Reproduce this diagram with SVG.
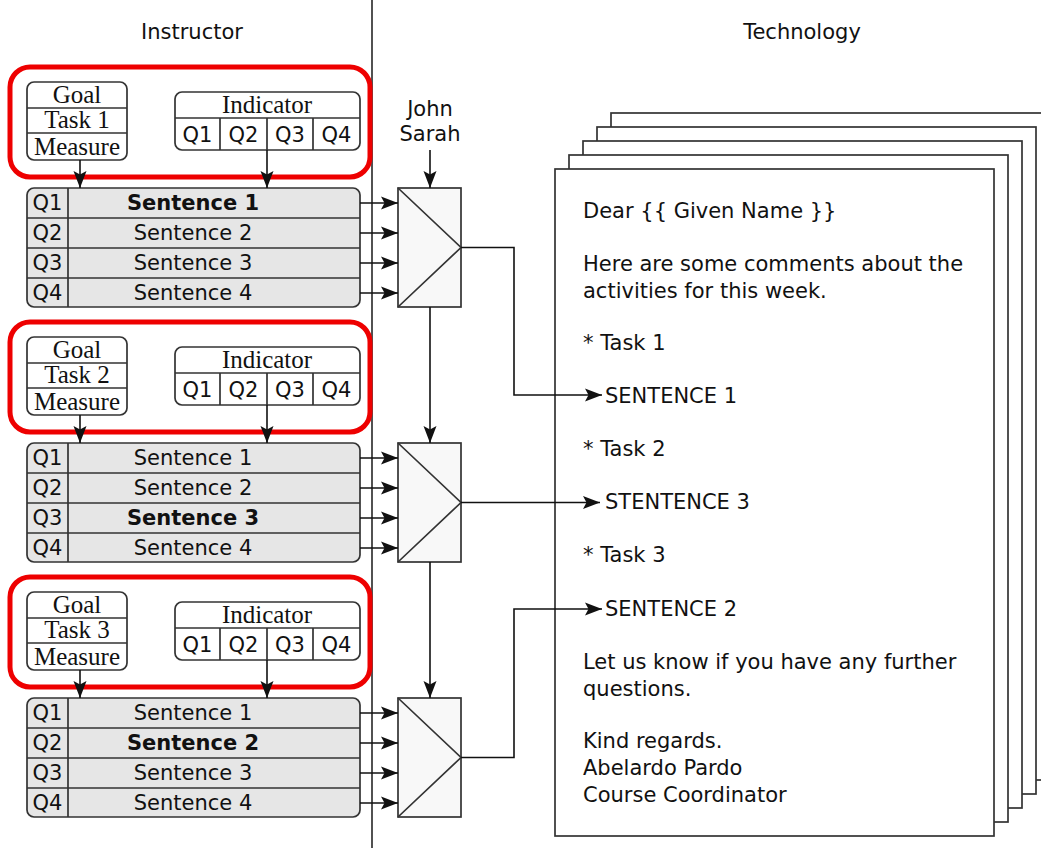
<svg xmlns="http://www.w3.org/2000/svg" width="1041" height="848" viewBox="0 0 1041 848">
<style>
.s{font-family:"DejaVu Sans","Verdana",sans-serif;font-size:21px;fill:#111}
.b{font-weight:bold}
.m{text-anchor:middle}
.f{font-family:"Liberation Serif","Times New Roman",serif;font-size:25px;fill:#111;text-anchor:middle}
.ln{fill:none;stroke:#333;stroke-width:1.7}
.red{fill:none;stroke:#ee0000;stroke-width:5}
.box{fill:#fff;stroke:#333;stroke-width:1.7}
.tbl{fill:#e6e6e6;stroke:#333;stroke-width:1.7}
.mux{fill:#f8f8f8;stroke:#333;stroke-width:1.7}
.pg{fill:#fff;stroke:#333;stroke-width:1.7}
.ar{fill:none;stroke:#111;stroke-width:1.6;marker-end:url(#ah)}
</style>
<defs>
<marker id="ah" markerUnits="userSpaceOnUse" markerWidth="18" markerHeight="14" refX="17" refY="7" orient="auto">
<path d="M0,0.5 L17,7 L0,13.5 L3.5,7 z" fill="#111"/>
</marker>
</defs>
<rect width="1041" height="848" fill="#fff"/>
<line x1="372" y1="0" x2="372" y2="848" class="ln"/>
<text x="192" y="39" class="s m">Instructor</text>
<text x="802" y="39" class="s m">Technology</text>

<g id="pages">
<rect x="611" y="113" width="439" height="667" class="pg"/>
<rect x="597" y="127" width="439" height="667" class="pg"/>
<rect x="583" y="141" width="439" height="667" class="pg"/>
<rect x="569" y="155" width="439" height="667" class="pg"/>
<rect x="555" y="169" width="439" height="667" class="pg"/>
<text class="s" x="583" y="218">Dear {{ Given Name }}</text>
<text class="s" x="583" y="271">Here are some comments about the</text>
<text class="s" x="583" y="298">activities for this week.</text>
<text class="s" x="583" y="350">* Task 1</text>
<text class="s" x="605" y="403">SENTENCE 1</text>
<text class="s" x="583" y="456">* Task 2</text>
<text class="s" x="605" y="509">STENTENCE 3</text>
<text class="s" x="583" y="562">* Task 3</text>
<text class="s" x="605" y="616">SENTENCE 2</text>
<text class="s" x="583" y="669">Let us know if you have any further</text>
<text class="s" x="583" y="696">questions.</text>
<text class="s" x="583" y="748">Kind regards.</text>
<text class="s" x="583" y="775">Abelardo Pardo</text>
<text class="s" x="583" y="802">Course Coordinator</text>
</g>

<g id="block1">
<rect x="10" y="67" width="360" height="110" rx="20" class="red"/>
<rect x="27" y="82" width="100" height="78" rx="7" class="box"/>
<path d="M27,108 H127 M27,133 H127" class="ln"/>
<text class="f" x="77" y="103">Goal</text>
<text class="f" x="77" y="128">Task 1</text>
<text class="f" x="77" y="155">Measure</text>
<rect x="175" y="92" width="185" height="58" rx="7" class="box"/>
<path d="M175,118 H360 M220,118 V150 M267,118 V150 M313,118 V150" class="ln"/>
<text class="f" x="267" y="113">Indicator</text>
<text class="s m" x="197.5" y="142">Q1</text>
<text class="s m" x="243.5" y="142">Q2</text>
<text class="s m" x="290" y="142">Q3</text>
<text class="s m" x="336.5" y="142">Q4</text>
<rect x="27" y="188" width="333" height="119" rx="7" class="tbl"/>
<path d="M27,218 H360 M27,248 H360 M27,278 H360 M68,188 V307" class="ln"/>
<text class="s m" x="47.5" y="210">Q1</text>
<text class="s m" x="47.5" y="240">Q2</text>
<text class="s m" x="47.5" y="270">Q3</text>
<text class="s m" x="47.5" y="300">Q4</text>
<text class="s m b" x="193" y="210">Sentence 1</text>
<text class="s m" x="193" y="240">Sentence 2</text>
<text class="s m" x="193" y="270">Sentence 3</text>
<text class="s m" x="193" y="300">Sentence 4</text>
</g>

<g id="block2">
<rect x="10" y="322" width="360" height="110" rx="20" class="red"/>
<rect x="27" y="337" width="100" height="78" rx="7" class="box"/>
<path d="M27,363 H127 M27,388 H127" class="ln"/>
<text class="f" x="77" y="358">Goal</text>
<text class="f" x="77" y="383">Task 2</text>
<text class="f" x="77" y="410">Measure</text>
<rect x="175" y="347" width="185" height="58" rx="7" class="box"/>
<path d="M175,373 H360 M220,373 V405 M267,373 V405 M313,373 V405" class="ln"/>
<text class="f" x="267" y="368">Indicator</text>
<text class="s m" x="197.5" y="397">Q1</text>
<text class="s m" x="243.5" y="397">Q2</text>
<text class="s m" x="290" y="397">Q3</text>
<text class="s m" x="336.5" y="397">Q4</text>
<rect x="27" y="443" width="333" height="119" rx="7" class="tbl"/>
<path d="M27,473 H360 M27,503 H360 M27,533 H360 M68,443 V562" class="ln"/>
<text class="s m" x="47.5" y="465">Q1</text>
<text class="s m" x="47.5" y="495">Q2</text>
<text class="s m" x="47.5" y="525">Q3</text>
<text class="s m" x="47.5" y="555">Q4</text>
<text class="s m" x="193" y="465">Sentence 1</text>
<text class="s m" x="193" y="495">Sentence 2</text>
<text class="s m b" x="193" y="525">Sentence 3</text>
<text class="s m" x="193" y="555">Sentence 4</text>
</g>

<g id="block3">
<rect x="10" y="577" width="360" height="110" rx="20" class="red"/>
<rect x="27" y="592" width="100" height="78" rx="7" class="box"/>
<path d="M27,618 H127 M27,643 H127" class="ln"/>
<text class="f" x="77" y="613">Goal</text>
<text class="f" x="77" y="638">Task 3</text>
<text class="f" x="77" y="665">Measure</text>
<rect x="175" y="602" width="185" height="58" rx="7" class="box"/>
<path d="M175,628 H360 M220,628 V660 M267,628 V660 M313,628 V660" class="ln"/>
<text class="f" x="267" y="623">Indicator</text>
<text class="s m" x="197.5" y="652">Q1</text>
<text class="s m" x="243.5" y="652">Q2</text>
<text class="s m" x="290" y="652">Q3</text>
<text class="s m" x="336.5" y="652">Q4</text>
<rect x="27" y="698" width="333" height="119" rx="7" class="tbl"/>
<path d="M27,728 H360 M27,758 H360 M27,788 H360 M68,698 V817" class="ln"/>
<text class="s m" x="47.5" y="720">Q1</text>
<text class="s m" x="47.5" y="750">Q2</text>
<text class="s m" x="47.5" y="780">Q3</text>
<text class="s m" x="47.5" y="810">Q4</text>
<text class="s m" x="193" y="720">Sentence 1</text>
<text class="s m b" x="193" y="750">Sentence 2</text>
<text class="s m" x="193" y="780">Sentence 3</text>
<text class="s m" x="193" y="810">Sentence 4</text>
</g>

<g id="students">
<text class="s m" x="430" y="116">John</text>
<text class="s m" x="430" y="141">Sarah</text>
</g>

<g id="mux1">
<rect x="398" y="188" width="63" height="119" class="mux"/>
<path d="M398,188 L461,247.5 L398,307" class="ln"/>
</g>
<g id="mux2">
<rect x="398" y="443" width="63" height="119" class="mux"/>
<path d="M398,443 L461,502.5 L398,562" class="ln"/>
</g>
<g id="mux3">
<rect x="398" y="698" width="63" height="119" class="mux"/>
<path d="M398,698 L461,757.5 L398,817" class="ln"/>
</g>

<g id="connectors">
<path d="M80,160 V188" class="ar"/>
<path d="M267,150 V188" class="ar"/>
<path d="M80,415 V443" class="ar"/>
<path d="M267,405 V443" class="ar"/>
<path d="M80,670 V698" class="ar"/>
<path d="M267,660 V698" class="ar"/>
<path d="M360,203 H398" class="ar"/>
<path d="M360,233 H398" class="ar"/>
<path d="M360,263 H398" class="ar"/>
<path d="M360,293 H398" class="ar"/>
<path d="M360,458 H398" class="ar"/>
<path d="M360,488 H398" class="ar"/>
<path d="M360,518 H398" class="ar"/>
<path d="M360,548 H398" class="ar"/>
<path d="M360,713 H398" class="ar"/>
<path d="M360,743 H398" class="ar"/>
<path d="M360,773 H398" class="ar"/>
<path d="M360,803 H398" class="ar"/>
<path d="M430,150 V188" class="ar"/>
<path d="M430,307 V443" class="ar"/>
<path d="M430,562 V698" class="ar"/>
<path d="M461,247.5 H514 V395 H602" class="ar"/>
<path d="M461,502.5 H600" class="ar"/>
<path d="M461,757.5 H514 V609 H602" class="ar"/>
</g>
</svg>
